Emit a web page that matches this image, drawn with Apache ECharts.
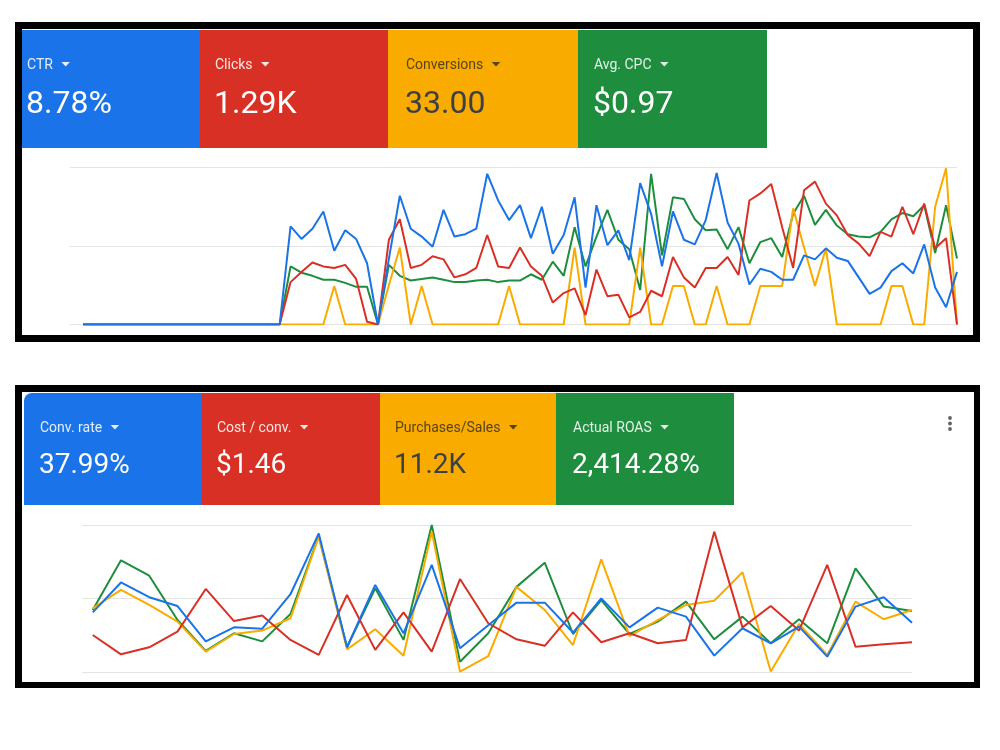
<!DOCTYPE html>
<html>
<head>
<meta charset="utf-8">
<script src="https://cdn.jsdelivr.net/npm/echarts@6/dist/echarts.min.js"></script>
<style>
html,body{margin:0;padding:0;background:#fff;}
#chart{width:1000px;height:750px;}
</style>
</head>
<body>
<div id="chart"></div>
<script>
// ---------- DATA ----------
const topLabels = ['CTR', 'Clicks', 'Conversions', 'Avg. CPC'];
const topValues = ['8.78%', '1.29K', '33.00', '$0.97'];
const bottomLabels = ['Conv. rate', 'Cost / conv.', 'Purchases/Sales', 'Actual ROAS'];
const bottomValues = ['37.99%', '$1.46', '11.2K', '2,414.28%'];

// top chart (normalized 0-100), 81 days
const topBlue = [0,0,0,0,0,0,0,0,0,0,0,0,0,0,0,0,0,0,0,
  62.5,54.5,61,72,47,60,54.5,39,0,
  42,82,61,56,49.5,73,56,57.5,61,96,79,66.5,76,55,75,45,57,81,23.5,76,50.5,60,41,90,70.5,37,72,54,
  51,66.5,96.5,65,51.5,25.5,35.5,33.5,28.5,28.5,44,41.5,48.5,42.5,40.5,30,19.5,23.5,34,39,32.5,51,23.5,11,33.5];
const topRed = [0,0,0,0,0,0,0,0,0,0,0,0,0,0,0,0,0,0,0,
  27,33.5,39.5,37,36,38,29,1.7,0,
  54,67,36,38,43.5,41.5,30,32,36,57,37,36,49,37,31,14,20,23,6,35,18,19,4.5,8,21.5,18,43,30,
  23.5,36,36,43,31.5,79,83.5,89.5,62,36,85.5,91,77,69.5,57,51.5,43.5,59,56,75,57.5,77,48.5,55,0];
const topYellow = [0,0,0,0,0,0,0,0,0,0,0,0,0,0,0,0,0,0,0,
  0,0,0,0,24.5,0,0,0,0,
  25,49,0,24.5,0,0,0,0,0,0,0,24.5,0,0,0,0,0,49,0,0,0,0,0,49,0,0,24.5,24.5,
  0,0,24.5,0,0,0,24.5,24.5,24.5,74,49,24.5,48.5,0,0,0,0,0,24.5,24.5,0,0,75,99.5,0];
const topGreen = [0,0,0,0,0,0,0,0,0,0,0,0,0,0,0,0,0,0,0,
  37,33,31,28.5,28.5,26.5,24,24,0,
  38,31,28,29,30,28.5,27,27,28,28.5,27,28,28,32,28.5,40,31,62,37,56,73,54,48,22,96,44,81,80,
  67,60,60.5,48,62,39,52.5,55,43,70.5,82,63.5,73,63,57.5,56,55.5,59,67,71,69,76,45.5,76,42];

// bottom chart (normalized 0-100), 30 days
const botBlue = [40.7,61,51,45,21,30.5,29.6,53,94.3,17,59.3,26.5,72.9,16.3,32,47.3,47.3,27,50.2,30.5,43.9,37.8,11.3,29.9,19.7,31,10.6,44.6,50.9,33.7];
const botRed = [25.3,12.2,17,27.6,56.6,34.8,38.5,22,11.8,52.5,15.2,40.7,14,63.3,33.3,22.4,18,40.7,20.4,26.5,19.7,22,95.5,30.5,45,28.3,72.9,17.4,19,20.4];
const botYellow = [43.4,56,45.7,34.4,14,26,28.3,36.7,92,15.6,29.2,11.3,95.5,0.5,11,58,42.3,18.5,76.7,24.5,35.5,45.7,48.6,67.9,0.5,32.8,11.8,48,36,42.3];
const botGreen = [42.3,76,65.6,35.5,14.5,26.5,21,39.6,92.5,17,57,22,100,7.2,26.5,58,74.4,26,49,26,34.4,48,22.4,37.8,19.7,36,19.7,70.6,44.6,41.6];

// ---------- STYLE ----------
const C = {blue:'#1a73e8', red:'#d93025', yellow:'#f9ab00', green:'#1e8e3e'};
const tileColors = [C.blue, C.red, C.yellow, C.green];
const FONT = 'Roboto, "Noto Sans", Arial, sans-serif';

const measure = (() => {
  const ctx = document.createElement('canvas').getContext('2d');
  return (txt, font) => { ctx.font = font; return ctx.measureText(txt).width; };
})();

function tiles(lefts, rights, top, bottom, textX, labelY, valueY, labels, values, valueSize, roundFirst) {
  const els = [];
  for (let k = 0; k < 4; k++) {
    els.push({
      type: 'rect', z: -5,
      shape: {x: lefts[k], y: top, width: rights[k] - lefts[k], height: bottom - top, r: (roundFirst && k === 0) ? [8,0,0,0] : 0},
      style: {fill: tileColors[k]}
    });
    const dark = k === 2;
    const lc = dark ? 'rgba(32,33,36,0.75)' : 'rgba(255,255,255,0.88)';
    const vc = dark ? '#3c4043' : '#ffffff';
    const lf = '14px ' + FONT;
    els.push({type: 'text', z: 10, style: {text: labels[k], x: textX[k], y: labelY, font: lf, fill: lc, align: 'left', verticalAlign: 'middle'}});
    const w = measure(labels[k], lf);
    const tx = textX[k] + w + 8.5, ty = labelY - 3.5;
    els.push({type: 'polygon', z: 10, shape: {points: [[tx, ty], [tx + 8.5, ty], [tx + 4.25, ty + 4.5]]}, style: {fill: lc}});
    els.push({type: 'text', z: 10, style: {text: values[k], x: textX[k] - 1, y: valueY, font: valueSize + 'px ' + FONT, fill: vc, align: 'left', verticalAlign: 'middle'}});
  }
  return els;
}

const graphic = [
  // top frame
  {type: 'rect', z: -20, shape: {x: 15, y: 22, width: 965, height: 320}, style: {fill: '#000'}},
  {type: 'rect', z: -19, shape: {x: 22, y: 29, width: 951, height: 306}, style: {fill: '#fff'}},
  // bottom frame
  {type: 'rect', z: -20, shape: {x: 15, y: 385, width: 965, height: 303}, style: {fill: '#000'}},
  {type: 'rect', z: -19, shape: {x: 22, y: 392, width: 952, height: 290}, style: {fill: '#fff'}},
  ...tiles([22, 200, 388, 578], [200, 388, 578, 767], 30, 148, [27, 215, 406, 594], 65.5, 105, topLabels, topValues, 32, false),
  ...tiles([24, 202, 380, 556], [202, 380, 556, 734], 393, 505, [40, 217, 395, 573], 428.5, 466, bottomLabels, bottomValues, 28, true),
  // kebab menu
  {type: 'circle', z: 10, shape: {cx: 950, cy: 418, r: 1.9}, style: {fill: '#5f6368'}},
  {type: 'circle', z: 10, shape: {cx: 950, cy: 423.5, r: 1.9}, style: {fill: '#5f6368'}},
  {type: 'circle', z: 10, shape: {cx: 950, cy: 429, r: 1.9}, style: {fill: '#5f6368'}}
];

function yAx(idx) {
  return {gridIndex: idx, type: 'value', min: 0, max: 100, interval: 50,
    axisLabel: {show: false}, axisLine: {show: false}, axisTick: {show: false},
    splitLine: {lineStyle: {color: '#e4e4e4', width: 1}}};
}
function xAx(idx, min, max) {
  return {gridIndex: idx, type: 'value', min: min, max: max,
    axisLabel: {show: false}, axisLine: {show: false}, axisTick: {show: false}, splitLine: {show: false}};
}
function line(idx, arr, color) {
  return {type: 'line', xAxisIndex: idx, yAxisIndex: idx, data: arr.map((v, i) => [i, v]),
    symbol: 'none', smooth: false, lineStyle: {color: color, width: 2}, itemStyle: {color: color}, silent: true};
}

const chart = echarts.init(document.getElementById('chart'), null, {renderer: 'canvas'});
chart.setOption({
  animation: false,
  backgroundColor: '#fff',
  graphic: graphic,
  grid: [
    {left: 70, right: 43, top: 167.5, height: 157},
    {left: 82, right: 88, top: 525, height: 147.3}
  ],
  xAxis: [xAx(0, -1.19, 80), xAx(1, -0.38, 29)],
  yAxis: [yAx(0), yAx(1)],
  series: [
    line(0, topGreen, C.green), line(0, topYellow, C.yellow), line(0, topRed, C.red), line(0, topBlue, C.blue),
    line(1, botGreen, C.green), line(1, botYellow, C.yellow), line(1, botRed, C.red), line(1, botBlue, C.blue)
  ]
});
</script>
</body>
</html>
